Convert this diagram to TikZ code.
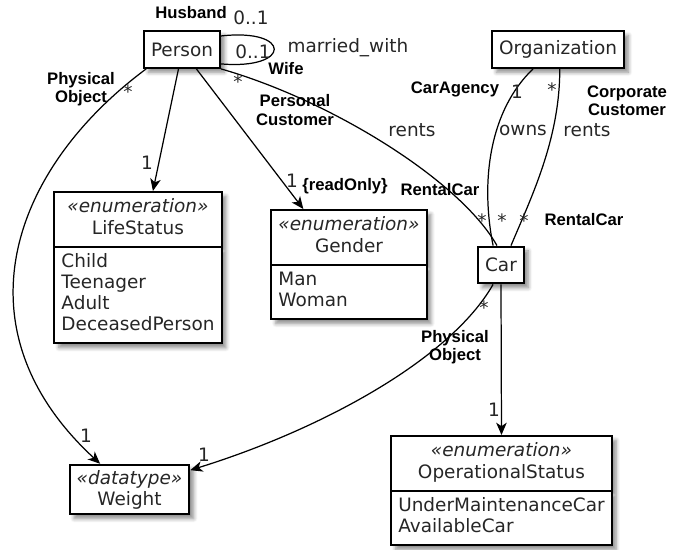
\documentclass[tikz,border=0pt]{standalone}
\usepackage{fontspec}
\setmainfont{DejaVu Sans}
\newfontfamily\rolefont{Liberation Sans}
\usepackage{tikz}
\usetikzlibrary{shapes.multipart,shadows.blur,arrows.meta}

\newcommand{\clsfont}{\fontsize{10.5}{12}\selectfont}
\tikzset{
  boxbase/.style={draw, line width=1.1pt, fill=white, font=\clsfont, text=black!85,
    blur shadow={shadow xshift=2.5pt, shadow yshift=-2.5pt, shadow blur steps=6, shadow opacity=45}},
  cls/.style={boxbase, inner xsep=4pt, minimum height=21pt},
  enumbox/.style={boxbase, rectangle split, rectangle split parts=2,
    rectangle split part align={center,left}, inner xsep=4pt, inner ysep=3pt},
  role/.style={font=\rolefont\bfseries\fontsize{9.5}{10.5}\selectfont, align=center},
  mult/.style={font=\clsfont, text=black!85},
  assoc/.style={line width=0.7pt},
  nav/.style={assoc, -{Stealth[length=7pt,width=6pt,inset=2pt]}},
}

\begin{document}
\begin{tikzpicture}[x=0.02cm, y=-0.02cm]
\useasboundingbox (0,0) rectangle (684,550);
% classes
\node[cls] (person) at (182,49.5) {Person};
\node[cls] (org) at (558,49.5) {Organization};
\node[cls] (car) at (501,265) {Car};
\node[cls, align=center, inner ysep=3pt] (weight) at (129.5,489.5) {\textit{«datatype»}\\Weight};
\node[enumbox, anchor=north] (lifestatus) at (138,191)
  {\begin{tabular}{@{}c@{}}\textit{«enumeration»}\\LifeStatus\end{tabular}
   \nodepart{two}\begin{tabular}{@{}l@{}}Child\\Teenager\\Adult\\DeceasedPerson\end{tabular}};
\node[enumbox, anchor=north] (gender) at (349,209)
  {\begin{tabular}{@{}c@{}}\textit{«enumeration»}\\Gender\end{tabular}
   \nodepart{two}\begin{tabular}{@{}l@{}}Man\\Woman\end{tabular}};
\node[enumbox, anchor=north] (opstatus) at (501.5,435)
  {\begin{tabular}{@{}c@{}}\textit{«enumeration»}\\OperationalStatus\end{tabular}
   \nodepart{two}\begin{tabular}{@{}l@{}}UnderMaintenanceCar\\AvailableCar\end{tabular}};

% associations
\draw[assoc] ([yshift=7.7pt]person.east) .. controls (292,28) and (292,70) .. ([yshift=-8.2pt]person.east);
\draw[nav] ([xshift=-2pt]person.south) -- ([xshift=8.5pt]lifestatus.north);
\draw[nav] ([xshift=8.2pt]person.south) -- ([xshift=-26pt]gender.north);
\draw[assoc] (person.south east) .. controls (330,100) and (460,180) .. ([xshift=-2.3pt]car.north);
\draw[nav] ([xshift=-20.4pt]person.south) .. controls (10,170) and (-45,330) .. ([xshift=-16.7pt]weight.north);
\draw[assoc] ([xshift=-14.2pt]org.south) .. controls (490,110) and (480,180) .. ([xshift=-4.5pt]car.north);
\draw[assoc] ([xshift=1pt]org.south) .. controls (560,140) and (530,200) .. ([xshift=5.7pt]car.north);
\draw[nav] ([xshift=-4.5pt]car.south) .. controls (450,360) and (320,430) .. ([yshift=11pt]weight.east);
\draw[nav] (car.south) -- (opstatus.north);

% roles and multiplicities
\node[role] (husband) at (191,13) {Husband};
\node[mult] (mhusband) at (251,18) {0..1};
\node[mult] (mwife) at (253,52) {0..1};
\node[mult] (married) at (348,48) {married\_with};
\node[role] (wife) at (286,69) {Wife};
\node[mult] (mpcust) at (238,82) {*};
\node[role] (pcust) at (295,110) {Personal\\Customer};
\node[role] (pobj1) at (81,89) {Physical\\Object};
\node[mult] (mpobj1) at (128,92) {*};
\node[mult] (mlife) at (147,163) {1};
\node[mult] (mgender) at (292,181) {1};
\node[role] (readonly) at (345,186) {\{readOnly\}};
\node[role] (rcar1) at (440,190) {RentalCar};
\node[mult] (rents1) at (412,130) {rents};
\node[role] (agency) at (455,89) {CarAgency};
\node[mult] (magency) at (517,92) {1};
\node[mult] (mccust) at (552,90) {*};
\node[role] (ccust) at (627,101) {Corporate\\Customer};
\node[mult] (owns) at (523,130) {owns};
\node[mult] (rents2) at (587,130) {rents};
\node[mult] (mcar1) at (482,221) {*};
\node[mult] (mcar2) at (502,221) {*};
\node[mult] (mcar3) at (524,221) {*};
\node[role] (rcar2) at (584,220) {RentalCar};
\node[mult] (mpobj2) at (484,308) {*};
\node[role] (pobj2) at (455,347) {Physical\\Object};
\node[mult] (mop) at (494,410) {1};
\node[mult] (mw1) at (86,436) {1};
\node[mult] (mw2) at (204,455) {1};
\end{tikzpicture}
\end{document}
